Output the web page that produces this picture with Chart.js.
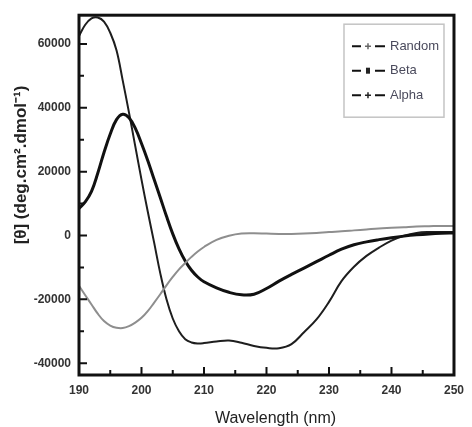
<!DOCTYPE html>
<html>
<head>
<meta charset="utf-8">
<script src="https://cdn.jsdelivr.net/npm/chart.js@4/dist/chart.umd.min.js"></script>
<style>
  html, body { margin: 0; padding: 0; background: #fff; }
  #wrap { width: 472px; height: 427px; position: relative; }
</style>
</head>
<body>
<div id="wrap"><canvas id="cd"></canvas></div>
<script>
// wavelength grid (nm)
const wavelengths = [190, 191, 192, 193, 194, 195, 196, 197, 198, 199, 200, 201, 202, 203, 204, 205, 206, 207, 208, 209, 210,
                     212, 214, 216, 218, 220, 222, 224, 226, 228, 230, 232, 234, 236, 238, 240, 242, 244, 246, 248, 250];

// ellipticity
const randomVals = [-15800, -18700, -21600, -24500, -26800, -28200, -28900, -29000, -28400, -27300, -25800, -23700, -21100, -18400, -15600, -13000, -10600, -8600, -6700, -5000, -3600,
                    -1400, -100, 600, 700, 600, 500, 500, 600, 800, 1100, 1300, 1600, 1900, 2200, 2400, 2600, 2800, 2900, 3000, 3000];
const betaVals = [8500, 10500, 13800, 19500, 26000, 31800, 36300, 38000, 36900, 33600, 28800, 23500, 17700, 11900, 6000, 500, -4200, -8000, -10900, -13000, -14500,
                  -16400, -17800, -18600, -18400, -16600, -14300, -12200, -10200, -8200, -6200, -4300, -2900, -2000, -1300, -700, -200, 200, 500, 700, 800];
const alphaVals = [62500, 66000, 68000, 68300, 67000, 63500, 58000, 48500, 38500, 28000, 17500, 7500, -2000, -11800, -20000, -26000, -30000, -32500, -33500, -33800, -33700,
                   -33200, -32900, -33600, -34600, -35200, -35300, -34000, -30300, -26300, -20800, -14300, -9800, -6400, -3800, -1600, -100, 800, 1100, 1100, 1100];

const seriesNames = ['Random', 'Beta', 'Alpha'];
const seriesColors = ['#8e8e8e', '#111111', '#1e1e1e'];
const seriesWidths = [2, 3, 2];

const xTicks = [190, 200, 210, 220, 230, 240, 250];
const xMinorTicks = [195, 205, 215, 225, 235, 245];
const yTicks = [-40000, -20000, 0, 20000, 40000, 60000];
const yMinorTicks = [-30000, -10000, 10000, 30000, 50000];

const xTitle = 'Wavelength (nm)';
const yTitle = '[\u03B8] (deg.cm\u00B2.dmol\u207B\u00B9)';

const FONT = '"Liberation Sans", Arial, sans-serif';

function pts(vals) {
    return wavelengths.map((w, i) => ({ x: w, y: vals[i] }));
}

const datasets = [randomVals, betaVals, alphaVals].map((vals, i) => ({
    label: seriesNames[i],
    data: pts(vals),
    borderColor: seriesColors[i],
    borderWidth: seriesWidths[i],
    pointRadius: 0,
    tension: 0.4,
    fill: false
}));

// frame, inward ticks, titles and boxed legend
const decor = {
    id: 'decor',
    afterDatasetsDraw(chart) {
        const ctx = chart.ctx;
        const a = chart.chartArea;
        const xs = chart.scales.x, ys = chart.scales.y;
        ctx.save();

        // ticks pointing into the plot
        ctx.strokeStyle = '#111';
        ctx.lineWidth = 2;
        ctx.beginPath();
        xTicks.forEach(v => { const p = xs.getPixelForValue(v); ctx.moveTo(p, a.bottom); ctx.lineTo(p, a.bottom - 8); });
        xMinorTicks.forEach(v => { const p = xs.getPixelForValue(v); ctx.moveTo(p, a.bottom); ctx.lineTo(p, a.bottom - 5); });
        yTicks.forEach(v => { const p = ys.getPixelForValue(v); ctx.moveTo(a.left, p); ctx.lineTo(a.left + 8, p); });
        yMinorTicks.forEach(v => { const p = ys.getPixelForValue(v); ctx.moveTo(a.left, p); ctx.lineTo(a.left + 5, p); });
        ctx.stroke();

        // frame
        ctx.lineWidth = 3;
        ctx.strokeStyle = '#111';
        ctx.strokeRect(a.left, a.top, a.right - a.left, a.bottom - a.top);

        // legend box
        const lx = a.right - 110, ly = a.top + 9, lw = 100, lh = 93;
        ctx.lineWidth = 1.5;
        ctx.strokeStyle = '#c4c4c4';
        ctx.strokeRect(lx, ly, lw, lh);
        ctx.font = '13px ' + FONT;
        ctx.textBaseline = 'middle';
        seriesNames.forEach((name, i) => {
            const cy = ly + 22 + i * 24.5;
            ctx.strokeStyle = '#111';
            ctx.lineWidth = 2;
            ctx.beginPath();
            ctx.moveTo(lx + 8, cy); ctx.lineTo(lx + 17, cy);
            ctx.moveTo(lx + 31, cy); ctx.lineTo(lx + 41, cy);
            ctx.stroke();
            ctx.fillStyle = '#222';
            const mx = lx + 24;
            if (i === 1) {
                ctx.fillRect(mx - 2, cy - 3, 4, 6);
            } else {
                ctx.lineWidth = 1.5;
                ctx.strokeStyle = i === 0 ? '#666' : '#222';
                ctx.beginPath();
                ctx.moveTo(mx, cy - 3); ctx.lineTo(mx, cy + 3);
                ctx.moveTo(mx - 3, cy); ctx.lineTo(mx + 3, cy);
                ctx.stroke();
            }
            ctx.fillStyle = '#4a4a5c';
            ctx.textAlign = 'left';
            ctx.fillText(name, lx + 46, cy);
        });

        // axis titles
        ctx.fillStyle = '#222';
        ctx.textAlign = 'center';
        ctx.textBaseline = 'middle';
        ctx.font = '16px ' + FONT;
        ctx.fillText(xTitle, (a.left + a.right) / 2 + 9, 419);
        ctx.save();
        ctx.translate(21, 165);
        ctx.rotate(-Math.PI / 2);
        ctx.font = 'bold 17px ' + FONT;
        ctx.fillText(yTitle, 0, 0);
        ctx.restore();

        ctx.restore();
    }
};

const bg = {
    id: 'bg',
    beforeDraw(chart) {
        const c = chart.ctx;
        c.save();
        c.fillStyle = '#fff';
        c.fillRect(0, 0, chart.width, chart.height);
        c.restore();
    }
};

new Chart(document.getElementById('cd'), {
    type: 'line',
    data: { datasets },
    options: {
        responsive: true,
        maintainAspectRatio: false,
        animation: false,
        layout: { padding: { top: 12, right: 11, left: 0, bottom: 0 } },
        plugins: { legend: { display: false }, tooltip: { enabled: false } },
        scales: {
            x: {
                type: 'linear',
                min: 190,
                max: 250,
                afterBuildTicks: s => { s.ticks = xTicks.map(v => ({ value: v })); },
                afterFit: s => { s.height = 52; },
                grid: { display: false, drawTicks: false },
                border: { display: false },
                ticks: { padding: 8, color: '#333', font: { family: FONT, size: 12, weight: 'bold' }, maxRotation: 0 }
            },
            y: {
                type: 'linear',
                min: -43700,
                max: 69000,
                afterBuildTicks: s => { s.ticks = yTicks.map(v => ({ value: v })); },
                afterFit: s => { s.width = 79; },
                grid: { display: false, drawTicks: false },
                border: { display: false },
                ticks: { padding: 8, color: '#333', font: { family: FONT, size: 12, weight: 'bold' },
                         callback: v => String(v) }
            }
        }
    },
    plugins: [bg, decor]
});
</script>
</body>
</html>
